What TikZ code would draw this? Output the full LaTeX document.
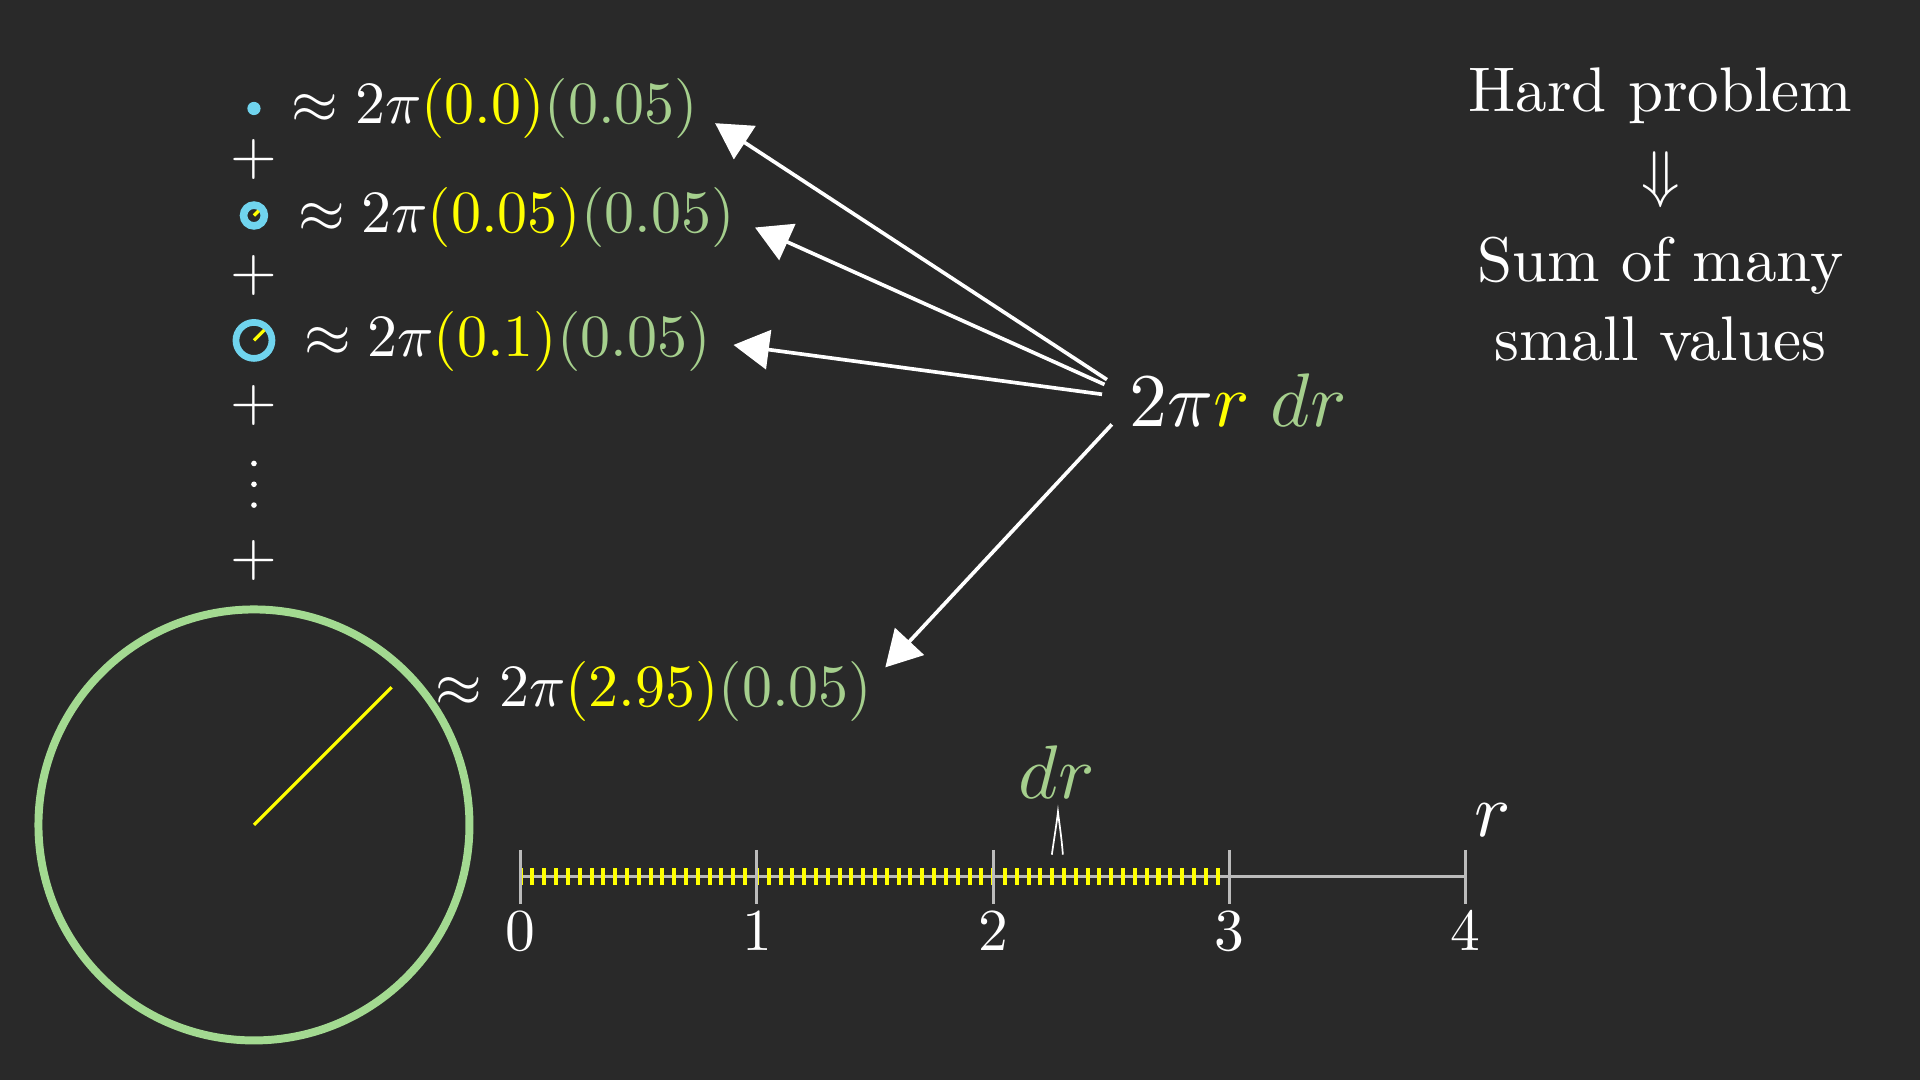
\RequirePackage{fix-cm}
\documentclass[tikz,border=0pt]{standalone}
\usepackage{graphicx}
\usetikzlibrary{arrows.meta}
\definecolor{bg}{RGB}{41,41,41}
\definecolor{myyellow}{RGB}{255,255,0}
\definecolor{mygreen}{RGB}{165,207,141}
\definecolor{circgreen}{RGB}{163,218,145}
\definecolor{mycyan}{RGB}{112,212,238}
\definecolor{axisgray}{RGB}{187,187,187}
\newcommand\rowsz[1]{\scalebox{2.45}{$#1$}}
\newcommand\bigsz[1]{\scalebox{3.1}{$#1$}}
\newcommand\rsz[1]{\scalebox{2.575}{#1}}
\newcommand\axsz[1]{\scalebox{2.43}{$#1$}}
\begin{document}
\begin{tikzpicture}[x=0.5pt,y=-0.5pt,
  txt/.style={inner sep=0pt, text=white, font=\fontsize{10}{12}\selectfont},
  rowtext/.style={txt, anchor=base west},
  rtext/.style={txt, anchor=base},
  axlabel/.style={txt, anchor=base},
  ptr/.style={draw=white, line width=1.5pt, -{Triangle[length=14.5pt,width=16pt]}},
  axisline/.style={draw=axisgray, line width=1.4pt},
  tickline/.style={draw=axisgray, line width=1.25pt},
  radline/.style={draw=myyellow, line width=1.35pt}
]
\fill[bg] (0,0) rectangle (1568,882);
\useasboundingbox (0,0) rectangle (1568,882);

% left column icons
\fill[mycyan] (207.4,88.6) circle (5.4);
\draw[mycyan, line width=3.1pt] (207.4,176) circle (8.5);
\draw[radline] (207.4,176) -- ++(-45:5.4);
\draw[mycyan, line width=2.75pt] (207.4,278) circle (14.7);
\draw[radline] (207.4,278) -- ++(-45:12);

% rows
\node[rowtext] (e1) at (238,101) {\rowsz{\approx 2\pi\textcolor{myyellow}{(0.0)}\textcolor{mygreen}{(0.05)}}};
\node[rowtext] (e2) at (243,190) {\rowsz{\approx 2\pi\textcolor{myyellow}{(0.05)}\textcolor{mygreen}{(0.05)}}};
\node[rowtext] (e3) at (248,291) {\rowsz{\approx 2\pi\textcolor{myyellow}{(0.1)}\textcolor{mygreen}{(0.05)}}};
\node[rowtext] (e4) at (355.6,576.6) {\rowsz{\approx 2\pi\textcolor{myyellow}{(2.95)}\textcolor{mygreen}{(0.05)}}};

\node[txt] (p1) at (207.4,129.9) {\rowsz{+}};
\node[txt] (p2) at (207.4,224.6) {\rowsz{+}};
\node[txt] (p3) at (207.4,331) {\rowsz{+}};
\node[txt] (p4) at (207.4,458) {\rowsz{+}};
% vertical ellipsis
\foreach \yy in {378.5,395.5,412.5} \fill[white] (207.4,\yy) circle (2.3);

% big circle
\draw[circgreen, line width=3.25pt] (207.4,673.7) circle (176);
\draw[radline] (207.4,673.7) -- (319.8,561.3);

% central expression
\node[txt, anchor=base west] (expr) at (922,348.5) {\bigsz{2\pi\textcolor{myyellow}{r}\;\textcolor{mygreen}{dr}}};

% arrows
\coordinate (s1) at (904,310);
\coordinate (s2) at (902,314);
\coordinate (s3) at (900,322);
\coordinate (s4) at (908,346.6);
\coordinate (t1) at (584,100.6);
\coordinate (t2) at (616.6,185.8);
\coordinate (t3) at (599,281.7);
\coordinate (t4) at (723,545);
\draw[ptr] (s1) -- (t1);
\draw[ptr] (s2) -- (t2);
\draw[ptr] (s3) -- (t3);
\draw[ptr] (s4) -- (t4);

% right text
\node[rtext] (h1) at (1356,91.2) {\rsz{Hard problem}};
\node[txt] (h2) at (1356,147) {\rsz{$\Downarrow$}};
\node[rtext] (h3) at (1356,230) {\rsz{Sum of many}};
\node[rtext] (h4) at (1356,294) {\rsz{small values}};

% number line
\draw[axisline] (425.2,716) -- (1196.9,716);
\foreach \k in {0,...,59} \fill[myyellow] ({425.2+9.6465*\k-1.65},709) rectangle ++(3.3,14);
\foreach \i in {0,...,4} {
  \draw[tickline] ({425.2+192.93*\i},694) -- ++(0,44);
  \node[axlabel] (l\i) at ({425.2+192.93*\i},776) {\axsz{\i}};
}
\node[txt, anchor=base, text=mygreen] (drl) at (863,652) {\bigsz{dr}};
\node[txt, anchor=base] (rl) at (1219,683) {\bigsz{r}};
\draw[white, line width=0.7pt] (859,698) .. controls (861,684) and (863,672) .. (864,663) .. controls (865,672) and (867,684) .. (868,698);
\end{tikzpicture}
\end{document}
